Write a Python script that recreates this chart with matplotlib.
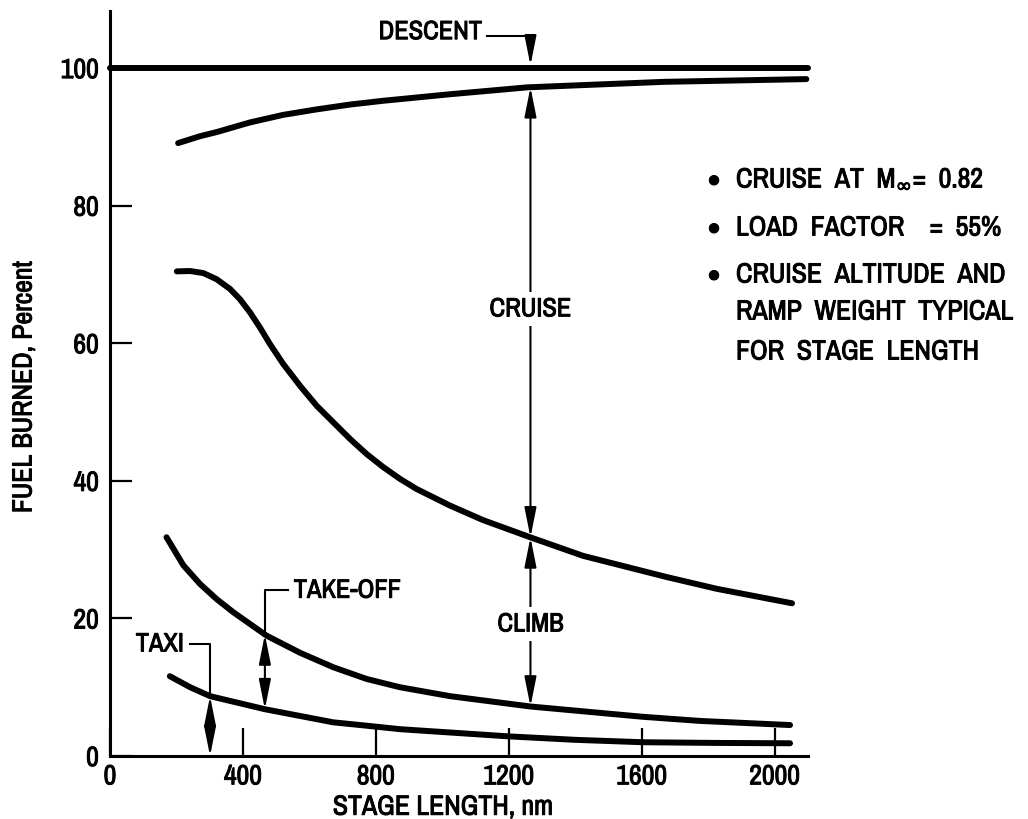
import numpy as np
import matplotlib
matplotlib.use("Agg")
import matplotlib.pyplot as plt
import matplotlib.patheffects as pe
from matplotlib.text import Text

plt.rcParams['font.family'] = ['Archivo Narrow', 'Liberation Sans Narrow', 'DejaVu Sans']
plt.rcParams['mathtext.fontset'] = 'dejavusans'

# Values (stage length in nm, fuel burned in percent)
descent_x = [0, 2100]
descent_y = [100, 100]

cruise_x = [205, 271, 321, 421, 521, 622, 722, 822, 1023, 1255, 1665, 2095]
cruise_y = [89.1, 90.1, 90.7, 92.1, 93.2, 94.0, 94.7, 95.25, 96.2, 97.2,
            98.0, 98.4]

climb_x = [201, 241, 281, 321, 361, 391, 421, 451, 481, 521, 572, 622, 672,
           722, 772, 822, 872, 923, 973, 1023, 1122, 1264, 1423, 1676, 1826,
           2052]
climb_y = [70.45, 70.5, 70.2, 69.3, 67.9, 66.4, 64.5, 62.3, 59.9, 57.0, 53.8,
           50.9, 48.5, 46.1, 43.9, 42.0, 40.3, 38.8, 37.6, 36.4, 34.3, 31.8,
           29.1, 26.0, 24.3, 22.2]

takeoff_x = [170, 221, 271, 321, 371, 471, 572, 672, 772, 872, 1023, 1264,
             1603, 1775, 2046]
takeoff_y = [31.8, 27.7, 25.0, 22.8, 20.9, 17.5, 15.0, 12.9, 11.2, 10.0, 8.7,
             7.2, 5.7, 5.1, 4.5]

taxi_x = [180, 241, 301, 466, 671, 773, 872, 1197, 1400, 1603, 1825, 2046]
taxi_y = [11.6, 10.0, 8.7, 6.8, 4.9, 4.4, 3.9, 2.86, 2.35, 2.0, 1.9, 1.85]

xticks = [0, 400, 800, 1200, 1600, 2000]
yticks = [0, 20, 40, 60, 80, 100]

notes = [r'CRUISE  AT  M$_{\infty}$=  0.82',
         'LOAD  FACTOR    =  55%',
         'CRUISE  ALTITUDE  AND',
         'RAMP  WEIGHT  TYPICAL',
         'FOR  STAGE  LENGTH']
note_bullet = [True, True, True, False, False]
note_py = [181, 229, 276, 313, 353]

fig = plt.figure(figsize=(10.28, 8.2), dpi=100)
ax = fig.add_axes([110 / 1028, 63 / 820, 698 / 1028, 745 / 820])
ax.set_xlim(0, 2100)
ax.set_ylim(0, 108.3)

for s in ['top', 'right']:
    ax.spines[s].set_visible(False)
for s in ['left', 'bottom']:
    ax.spines[s].set_linewidth(2.2)

ax.set_xticks(xticks)
ax.set_yticks(yticks)
ax.tick_params(axis='x', direction='in', length=20, width=1.6, pad=6,
               labelsize=20)
ax.tick_params(axis='y', direction='in', length=16, width=1.6, pad=8,
               labelsize=20)

lw = 4.3
for xs, ys in [(descent_x, descent_y), (cruise_x, cruise_y),
               (climb_x, climb_y), (takeoff_x, takeoff_y), (taxi_x, taxi_y)]:
    ax.plot(xs, ys, color='black', lw=lw, solid_capstyle='round',
            solid_joinstyle='round', clip_on=False)

arrow = dict(arrowstyle='<|-|>,head_length=0.9,head_width=0.18',
             color='black', lw=1.5, shrinkA=0, shrinkB=0, mutation_scale=20)
one_way = dict(arrowstyle='-|>,head_length=0.9,head_width=0.18',
               color='black', lw=1.5, shrinkA=0, shrinkB=0, mutation_scale=20)

# cruise / climb arrows
xa = 1265
y_climb = np.interp(xa, climb_x, climb_y)
y_cruise = np.interp(xa, cruise_x, cruise_y)
y_to = np.interp(xa, takeoff_x, takeoff_y)
ax.annotate('', xy=(xa, y_cruise), xytext=(xa, y_climb), arrowprops=arrow)
ax.annotate('', xy=(xa, y_climb), xytext=(xa, y_to), arrowprops=arrow)
ax.text(xa, 65, 'CRUISE', ha='center', va='center', fontsize=19,
        bbox=dict(facecolor='white', edgecolor='none', pad=4))
ax.text(xa, 19.2, 'CLIMB', ha='center', va='center', fontsize=19,
        bbox=dict(facecolor='white', edgecolor='none', pad=4))

# descent
ax.plot([1133, xa], [104.7, 104.7], color='black', lw=1.5)
ax.annotate('', xy=(xa, 100.4), xytext=(xa, 104.7), arrowprops=one_way)
ax.text(1120, 105.3, 'DESCENT', ha='right', va='center', fontsize=19)

# take-off
xt = 466
y_t1 = np.interp(xt, takeoff_x, takeoff_y)
y_t0 = np.interp(xt, taxi_x, taxi_y)
ax.plot([xt, xt, 535], [y_t1, 24.1, 24.1], color='black', lw=1.5)
ax.annotate('', xy=(xt, y_t1), xytext=(xt, y_t0), arrowprops=arrow)
ax.text(553, 24.1, 'TAKE-OFF', ha='left', va='center', fontsize=19)

# taxi
xx = 301
y_x1 = np.interp(xx, taxi_x, taxi_y)
ax.plot([xx, xx, 240], [y_x1, 16.3, 16.3], color='black', lw=1.5)
ax.annotate('', xy=(xx, y_x1), xytext=(xx, 0), arrowprops=arrow)
ax.text(222, 16.3, 'TAXI', ha='right', va='center', fontsize=19)

ax.text(0.477, -0.052, 'STAGE LENGTH, nm', transform=ax.transAxes,
        ha='center', va='top', fontsize=20)
fig.text(24 / 1028, 1 - 388 / 820, 'FUEL BURNED, Percent', rotation=90,
         ha='center', va='center', fontsize=20)

# notes on the right
for t, b, py in zip(notes, note_bullet, note_py):
    if b:
        fig.text(714 / 1028, 1 - py / 820, '\u25cf', ha='center',
                 va='center', fontsize=9, family='DejaVu Sans')
    fig.text(736 / 1028, 1 - py / 820, t, ha='left', va='center',
             fontsize=20)

# scanned lettering is heavier than the regular face
for t in fig.findobj(Text):
    t.set_path_effects([pe.withStroke(linewidth=0.7, foreground='black')])

fig.savefig('out.png', dpi=100, facecolor='white')
